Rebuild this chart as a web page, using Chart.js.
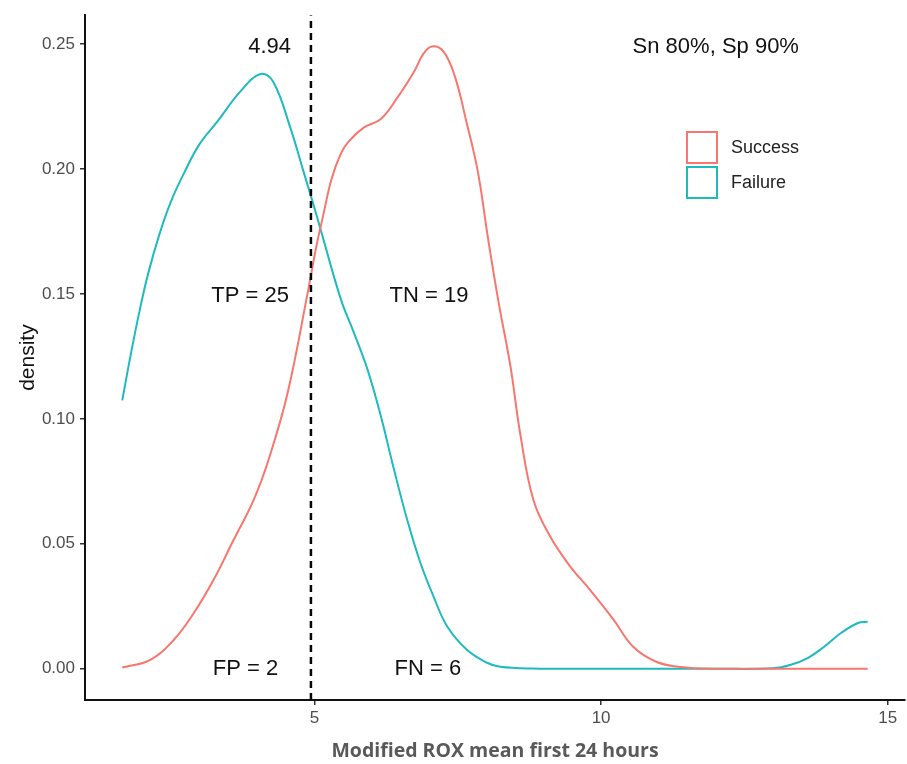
<!DOCTYPE html>
<html>
<head>
<meta charset="utf-8">
<script src="https://cdn.jsdelivr.net/npm/chart.js@4"></script>
<style>
  body { margin: 0; background: #fff; }
  canvas { display: block; }
</style>
</head>
<body>
<canvas id="myChart" width="907" height="764"></canvas>
<script>
// density curves
const successX = [1.65, 2.14, 2.55, 2.90, 3.24, 3.59, 3.94, 4.20, 4.53, 4.88, 5.03, 5.15, 5.30, 5.46, 5.60, 5.86, 6.16, 6.45, 6.74, 6.90, 7.05, 7.25, 7.45, 7.65, 7.85, 8.03, 8.21, 8.42, 8.59, 8.82, 9.11, 9.46, 9.81, 10.22, 10.56, 10.96, 11.35, 11.8, 12.5, 13.5, 14.65];
const successY = [0.0005, 0.0036, 0.0116, 0.0224, 0.0355, 0.0515, 0.0675, 0.0835, 0.110, 0.150, 0.1685, 0.181, 0.196, 0.206, 0.211, 0.2165, 0.220, 0.2286, 0.239, 0.246, 0.249, 0.247, 0.237, 0.219, 0.199, 0.172, 0.147, 0.121, 0.094, 0.0675, 0.053, 0.041, 0.0315, 0.0196, 0.0088, 0.0028, 0.0008, 0.0001, 0, 0, 0];

const failureX = [1.65, 1.80, 1.95, 2.10, 2.30, 2.50, 2.72, 3.00, 3.31, 3.71, 4.06, 4.28, 4.58, 4.81, 4.98, 5.10, 5.46, 5.68, 5.93, 6.16, 6.38, 6.62, 6.85, 7.08, 7.32, 7.66, 8.01, 8.24, 8.8, 10, 12, 13.0, 13.31, 13.61, 13.89, 14.19, 14.49, 14.65];
const failureY = [0.1074, 0.126, 0.143, 0.158, 0.174, 0.187, 0.198, 0.210, 0.219, 0.231, 0.238, 0.235, 0.2165, 0.199, 0.186, 0.1765, 0.148, 0.135, 0.1195, 0.101, 0.0805, 0.0595, 0.0423, 0.0288, 0.0168, 0.0076, 0.0024, 0.0008, 0.0001, 0, 0, 0.0002, 0.0016, 0.0044, 0.0088, 0.0144, 0.0184, 0.0188];

const cutoff = 4.94;
const xTicks = [5, 10, 15];
const yTicks = [0, 0.05, 0.10, 0.15, 0.20, 0.25];

// text labels: [text, x, y]
const notes = [
    ['4.94', 4.22, 0.249],
    ['Sn 80%, Sp 90%', 12.0, 0.249],
    ['TP = 25', 3.88, 0.149],
    ['TN = 19', 7.0, 0.149],
    ['FP = 2', 3.80, 0.0],
    ['FN = 6', 6.98, 0.0]
];

const redCol = '#F8766D';
const cyanCol = '#1FBAC0';
const FONT = "'Liberation Sans', Arial, sans-serif";

function toPoints(xs, ys) {
    return xs.map((x, i) => ({ x: x, y: ys[i] }));
}

// annotations + legend drawn on top
const extras = {
    id: 'extras',
    afterDatasetsDraw(chart) {
        const ctx = chart.ctx;
        const xs = chart.scales.x, ys = chart.scales.y;
        ctx.save();
        ctx.fillStyle = '#111';
        ctx.font = '22px ' + FONT;
        ctx.textAlign = 'center';
        ctx.textBaseline = 'middle';
        notes.forEach(n => {
            ctx.fillText(n[0], xs.getPixelForValue(n[1]), ys.getPixelForValue(n[2]));
        });

        // legend
        const items = chart.data.datasets.filter(d => d.inLegend);
        let top = 131;
        ctx.font = '18px ' + FONT;
        ctx.textAlign = 'left';
        items.forEach(d => {
            ctx.fillStyle = '#fff';
            ctx.fillRect(686, top, 32, 33);
            ctx.strokeStyle = d.borderColor;
            ctx.lineWidth = 2;
            ctx.strokeRect(687, top + 1, 30, 31);
            ctx.fillStyle = '#222';
            ctx.fillText(d.label, 731, top + 17);
            top += 35;
        });
        ctx.restore();
    }
};

const ctx = document.getElementById('myChart').getContext('2d');
const myChart = new Chart(ctx, {
    type: 'line',
    data: {
        datasets: [
            {
                label: 'cutoff',
                data: [{ x: cutoff, y: -0.0125 }, { x: cutoff, y: 0.2615 }],
                borderColor: '#000',
                borderWidth: 2.5,
                borderDash: [7, 5],
                pointRadius: 0,
                order: 0
            },
            {
                label: 'Success',
                data: toPoints(successX, successY),
                borderColor: redCol,
                borderWidth: 2,
                pointRadius: 0,
                tension: 0.4,
                inLegend: true,
                order: 1
            },
            {
                label: 'Failure',
                data: toPoints(failureX, failureY),
                borderColor: cyanCol,
                borderWidth: 2,
                pointRadius: 0,
                tension: 0.4,
                inLegend: true,
                order: 2
            }
        ]
    },
    options: {
        responsive: false,
        animation: false,
        layout: { padding: { top: 12, right: 2, left: 0, bottom: 0 } },
        plugins: {
            legend: { display: false },
            tooltip: { enabled: false }
        },
        scales: {
            x: {
                type: 'linear',
                min: 1.0,
                max: 15.3,
                afterBuildTicks: s => { s.ticks = xTicks.map(v => ({ value: v })); },
                afterFit: s => { s.height = 64; },
                grid: { drawOnChartArea: false, tickLength: 5, tickColor: '#333', lineWidth: 1.5 },
                border: { color: '#111', width: 2 },
                ticks: { color: '#4D4D4D', font: { family: FONT, size: 17 }, padding: 3, maxRotation: 0 },
                title: {
                    display: true,
                    text: 'Modified ROX mean first 24 hours',
                    color: '#595959',
                    font: { family: "'Open Sans', sans-serif", size: 19.5, weight: 'bold' },
                    padding: { top: 0, bottom: 1 }
                }
            },
            y: {
                type: 'linear',
                min: -0.0125,
                max: 0.2615,
                afterBuildTicks: s => { s.ticks = yTicks.map(v => ({ value: v })); },
                afterFit: s => { s.width = 85; },
                grid: { drawOnChartArea: false, tickLength: 5, tickColor: '#333', lineWidth: 1.5 },
                border: { color: '#111', width: 2 },
                ticks: { color: '#4D4D4D', font: { family: FONT, size: 17 }, padding: 5, callback: v => v.toFixed(2) },
                title: {
                    display: true,
                    text: 'density',
                    color: '#111',
                    font: { family: FONT, size: 21 },
                    padding: { top: 16, bottom: 0 }
                }
            }
        }
    },
    plugins: [extras]
});
</script>
</body>
</html>
